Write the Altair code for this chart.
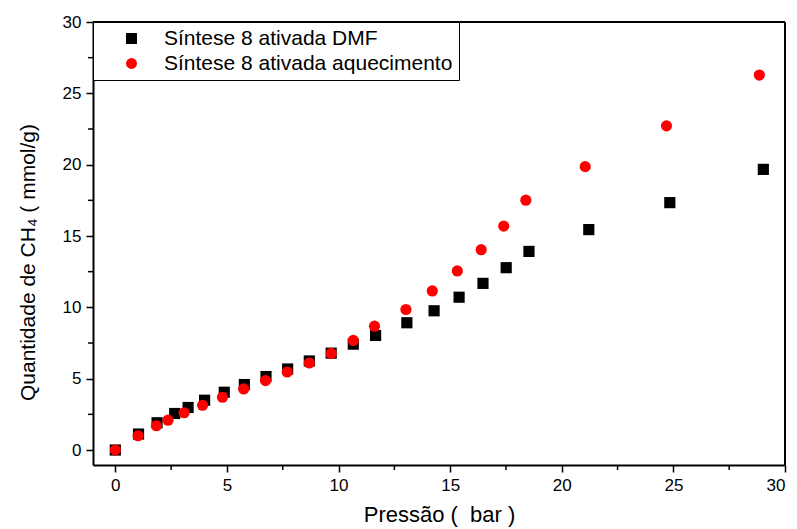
import altair as alt
import pandas as pd

FONT = "Liberation Sans, Arial, sans-serif"

# Series labels
dmf_label = "Síntese 8 ativada DMF"
heat_label = "Síntese 8 ativada aquecimento"

# Pressure (bar) and CH4 uptake (mmol/g), DMF-activated sample
dmf_p = [0.0, 1.04, 1.87, 2.66, 3.26, 4.0, 4.88, 5.78, 6.75, 7.72, 8.69, 9.67,
         10.66, 11.66, 13.06, 14.28, 15.4, 16.47, 17.51, 18.53, 21.21, 24.84, 29.03]
dmf_q = [0.0, 1.12, 1.91, 2.56, 2.98, 3.49, 4.05, 4.59, 5.15, 5.68, 6.24, 6.79,
         7.42, 8.03, 8.92, 9.76, 10.71, 11.68, 12.78, 13.92, 15.45, 17.34, 19.67]

# Pressure (bar) and CH4 uptake (mmol/g), heat-activated sample
heat_p = [0.0, 1.02, 1.84, 2.36, 3.08, 3.91, 4.8, 5.75, 6.73, 7.7, 8.69, 9.67,
          10.66, 11.61, 13.02, 14.2, 15.32, 16.39, 17.4, 18.39, 21.05, 24.69, 28.85]
heat_q = [0.0, 1.0, 1.7, 2.09, 2.61, 3.14, 3.70, 4.28, 4.87, 5.47, 6.1, 6.77,
          7.68, 8.68, 9.85, 11.15, 12.55, 14.04, 15.69, 17.51, 19.86, 22.72, 26.28]

df = pd.concat([
    pd.DataFrame({"p": dmf_p, "q": dmf_q, "serie": dmf_label, "ordem": 0}),
    pd.DataFrame({"p": heat_p, "q": heat_q, "serie": heat_label, "ordem": 1}),
])

x_ticks = [0, 5, 10, 15, 20, 25, 30]
y_ticks = [0, 5, 10, 15, 20, 25, 30]

W, H = 692, 443

x_scale = alt.Scale(domain=[-1, 30], nice=False, zero=False)
y_scale = alt.Scale(domain=[-1.05, 30], nice=False, zero=False)

x_axis = alt.Axis(
    title="Pressão (\u00a0 bar )", values=x_ticks, grid=False,
    domainColor="black", domainWidth=2, tickColor="black",
    tickWidth=1.5, tickSize=7, labelFontSize=17, labelColor="black",
    labelFont=FONT, titleFont=FONT, titleFontSize=22, titleFontWeight="normal",
    titleColor="black", labelPadding=5, titlePadding=11,
)
y_axis = alt.Axis(
    title="Quantidade de CH₄ ( mmol/g)", values=y_ticks, grid=False,
    domainColor="black", domainWidth=2, tickColor="black",
    tickWidth=1.5, tickSize=7, labelFontSize=17, labelColor="black",
    labelFont=FONT, titleFont=FONT, titleFontSize=21, titleFontWeight="normal",
    titleColor="black", labelPadding=5, titlePadding=24, titleY=240,
)

# Minor ticks at the half-steps
minor_vals = [2.5, 7.5, 12.5, 17.5, 22.5, 27.5]
minor_x_df = pd.DataFrame({"p": minor_vals})
minor_y_df = pd.DataFrame({"q": minor_vals})

minor_x = alt.Chart(minor_x_df).mark_rule(color="black", strokeWidth=1.5).encode(
    x=alt.X("p:Q", scale=x_scale, axis=x_axis),
    y=alt.value(H), y2=alt.value(H + 5),
)
minor_y = alt.Chart(minor_y_df).mark_rule(color="black", strokeWidth=1.5).encode(
    y=alt.Y("q:Q", scale=y_scale, axis=y_axis),
    x=alt.value(0), x2=alt.value(-5),
)

# Top and right edges of the frame
frame_top = alt.Chart().mark_rule(color="black", strokeWidth=2).encode(
    x=alt.value(0), x2=alt.value(W), y=alt.value(0),
)
frame_right = alt.Chart().mark_rule(color="black", strokeWidth=2).encode(
    x=alt.value(W), y=alt.value(0), y2=alt.value(H),
)

points = alt.Chart(df).mark_point(filled=True, opacity=1, strokeWidth=0).encode(
    x=alt.X("p:Q", scale=x_scale, axis=x_axis),
    y=alt.Y("q:Q", scale=y_scale, axis=y_axis),
    color=alt.Color(
        "serie:N",
        scale=alt.Scale(domain=[dmf_label, heat_label], range=["black", "#ff0000"]),
        legend=alt.Legend(
            title=None, orient="top-left", offset=0, strokeColor="black",
            fillColor="white", padding=6, labelFont=FONT, labelFontSize=21,
            labelColor="black", labelLimit=500, symbolSize=120, symbolOffset=22,
            labelOffset=22, rowPadding=3, symbolStrokeWidth=0,
        ),
    ),
    shape=alt.Shape(
        "serie:N",
        scale=alt.Scale(domain=[dmf_label, heat_label], range=["square", "circle"]),
    ),
    size=alt.value(125),
    order=alt.Order("ordem:Q"),
)

chart = alt.layer(points, minor_x, minor_y, frame_top, frame_right).properties(
    width=W, height=H,
    padding={"left": 93, "top": 22, "right": 12, "bottom": 64},
    autosize=alt.AutoSizeParams(type="none"),
).configure(background="white").configure_view(stroke=None)

chart.save("out.html", embed_options={"renderer": "svg", "actions": False})
